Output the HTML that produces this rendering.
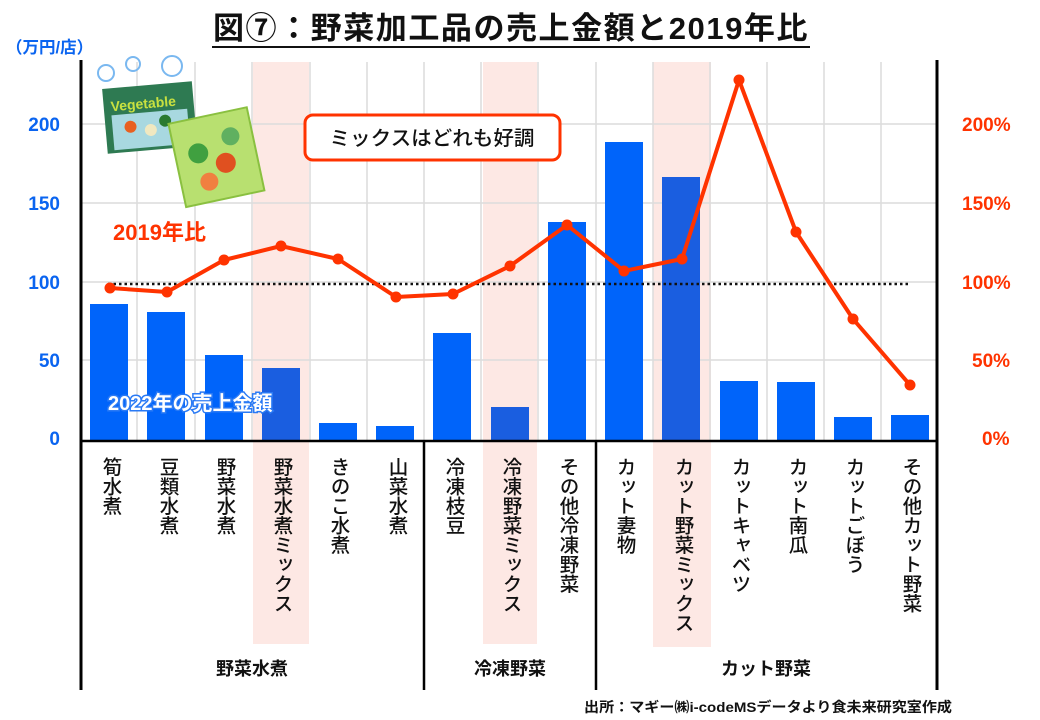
<!DOCTYPE html>
<html><head><meta charset="utf-8"><style>
body{margin:0;background:#fff;}
#c{position:relative;width:1040px;height:720px;overflow:hidden;font-family:"Liberation Sans","Noto Sans CJK JP",sans-serif;}
.v{position:absolute;top:457px;writing-mode:vertical-rl;font-size:19.5px;line-height:22px;color:#111;font-weight:500;width:22px;}
</style></head><body><div id="c">
<svg width="1040" height="720" style="position:absolute;left:0;top:0" font-family="Liberation Sans, Noto Sans CJK JP, sans-serif">
<rect x="253" y="62" width="56" height="582" fill="#fde8e4"/>
<rect x="483" y="62" width="54" height="582" fill="#fde8e4"/>
<rect x="653" y="62" width="58" height="585" fill="#fde8e4"/>
<g stroke="#dcdcdc" stroke-width="1.5">
<line x1="81" y1="124" x2="937" y2="124"/><line x1="81" y1="203" x2="937" y2="203"/>
<line x1="81" y1="282" x2="937" y2="282"/><line x1="81" y1="360" x2="937" y2="360"/>
<line x1="137" y1="62" x2="137" y2="440"/><line x1="195" y1="62" x2="195" y2="440"/>
<line x1="252" y1="62" x2="252" y2="440"/><line x1="310" y1="62" x2="310" y2="440"/>
<line x1="367" y1="62" x2="367" y2="440"/><line x1="424" y1="62" x2="424" y2="440"/>
<line x1="481" y1="62" x2="481" y2="440"/><line x1="538" y1="62" x2="538" y2="440"/>
<line x1="596" y1="62" x2="596" y2="440"/><line x1="653" y1="62" x2="653" y2="440"/>
<line x1="710" y1="62" x2="710" y2="440"/><line x1="767" y1="62" x2="767" y2="440"/>
<line x1="824" y1="62" x2="824" y2="440"/><line x1="881" y1="62" x2="881" y2="440"/>
</g>
<g fill="#0064fa">
<rect x="90" y="304" width="38" height="136"/>
<rect x="147" y="312" width="38" height="128"/>
<rect x="205" y="355" width="38" height="85"/>
<rect x="262" y="368" width="38" height="72" fill="#1a5ee0"/>
<rect x="319" y="423" width="38" height="17"/>
<rect x="376" y="426" width="38" height="14"/>
<rect x="433" y="333" width="38" height="107"/>
<rect x="491" y="407" width="38" height="33" fill="#1a5ee0"/>
<rect x="548" y="222" width="38" height="218"/>
<rect x="605" y="142" width="38" height="298"/>
<rect x="662" y="177" width="38" height="263" fill="#1a5ee0"/>
<rect x="720" y="381" width="38" height="59"/>
<rect x="777" y="382" width="38" height="58"/>
<rect x="834" y="417" width="38" height="23"/>
<rect x="891" y="415" width="38" height="25"/>
</g>
<line x1="81" y1="60" x2="81" y2="690" stroke="#000" stroke-width="3"/>
<line x1="937" y1="60" x2="937" y2="690" stroke="#000" stroke-width="3"/>
<line x1="81" y1="441" x2="937" y2="441" stroke="#000" stroke-width="2.5"/>
<line x1="424" y1="441" x2="424" y2="690" stroke="#000" stroke-width="2.5"/>
<line x1="596" y1="441" x2="596" y2="690" stroke="#000" stroke-width="2.5"/>
<line x1="108" y1="284" x2="910" y2="284" stroke="#111" stroke-width="2.5" stroke-dasharray="2.5,3"/>
<polyline fill="none" stroke="#ff3300" stroke-width="4" stroke-linejoin="round" points="110,288 167,292 224,260 281,246 338,259 396,297 453,294 510,266 567,225 624,271 682,259 739,80 796,232 853,319 910,385"/>
<g fill="#ff3300">
<circle cx="110" cy="288" r="5.5"/><circle cx="167" cy="292" r="5.5"/><circle cx="224" cy="260" r="5.5"/><circle cx="281" cy="246" r="5.5"/><circle cx="338" cy="259" r="5.5"/><circle cx="396" cy="297" r="5.5"/><circle cx="453" cy="294" r="5.5"/><circle cx="510" cy="266" r="5.5"/><circle cx="567" cy="225" r="5.5"/><circle cx="624" cy="271" r="5.5"/><circle cx="682" cy="259" r="5.5"/><circle cx="739" cy="80" r="5.5"/><circle cx="796" cy="232" r="5.5"/><circle cx="853" cy="319" r="5.5"/><circle cx="910" cy="385" r="5.5"/>
</g>
<g fill="#0a64f0" font-weight="bold" font-size="19" text-anchor="end">
<text x="60" y="131">200</text><text x="60" y="210">150</text><text x="60" y="289">100</text><text x="60" y="367">50</text><text x="60" y="445">0</text>
</g>
<text x="6" y="53" fill="#0a64f0" font-weight="bold" font-size="16.5">（万円/店）</text>
<g fill="#ff3300" font-weight="bold" font-size="19">
<text x="962" y="131">200%</text><text x="962" y="210">150%</text><text x="962" y="289">100%</text><text x="972" y="367">50%</text><text x="982" y="445">0%</text>
</g>
<text x="511" y="39" text-anchor="middle" font-size="31" font-weight="bold" fill="#111" letter-spacing="1.5" textLength="596" lengthAdjust="spacingAndGlyphs">図⑦：野菜加工品の売上金額と2019年比</text>
<line x1="212" y1="47" x2="810" y2="47" stroke="#111" stroke-width="2"/>
<rect x="305" y="115" width="255" height="45" rx="8" fill="#fff" stroke="#ff3300" stroke-width="3"/>
<text x="432" y="145" text-anchor="middle" font-size="20" font-weight="500" fill="#111" textLength="205" lengthAdjust="spacingAndGlyphs">ミックスはどれも好調</text>
<text x="113" y="240" font-size="22" font-weight="bold" fill="#ff3300">2019年比</text>
<text x="108" y="410" font-size="20" font-weight="bold" fill="#fff" stroke="#2a7af5" stroke-width="3" paint-order="stroke">2022年の売上金額</text>
<g>
<circle cx="106" cy="73" r="8" fill="none" stroke="#7ab8f0" stroke-width="2"/>
<circle cx="133" cy="64" r="7" fill="none" stroke="#7ab8f0" stroke-width="2"/>
<circle cx="172" cy="66" r="10" fill="none" stroke="#7ab8f0" stroke-width="2"/>
<g transform="rotate(-5 150 120)">
<rect x="105" y="85" width="90" height="65" fill="#2e7a52"/>
<rect x="112" y="112" width="76" height="35" fill="#a8d8e0"/>
<circle cx="130" cy="125" r="6" fill="#e86020"/><circle cx="150" cy="130" r="6" fill="#f0e8c0"/><circle cx="165" cy="122" r="6" fill="#2a7a30"/>
<text x="112" y="108" font-size="14" font-weight="bold" fill="#c8e040">Vegetable</text>
</g>
<g transform="rotate(-12 215 160)">
<rect x="177" y="115" width="80" height="85" fill="#b8e070" stroke="#8ac040" stroke-width="2"/>
<circle cx="200" cy="150" r="10" fill="#40a040"/><circle cx="225" cy="165" r="10" fill="#e05020"/><circle cx="235" cy="140" r="9" fill="#60b060"/><circle cx="205" cy="180" r="9" fill="#f08040"/>
</g>
</g>
<g font-size="18" font-weight="bold" fill="#111" text-anchor="middle">
<text x="252" y="675">野菜水煮</text><text x="510" y="675">冷凍野菜</text><text x="766" y="675">カット野菜</text>
</g>
<text x="952" y="712" text-anchor="end" font-size="14" font-weight="bold" fill="#111" textLength="368" lengthAdjust="spacingAndGlyphs">出所：マギー㈱i-codeMSデータより食未来研究室作成</text>
</svg>
<div class="v" style="left:99px">筍水煮</div>
<div class="v" style="left:156px">豆類水煮</div>
<div class="v" style="left:213px">野菜水煮</div>
<div class="v" style="left:270px">野菜水煮ミックス</div>
<div class="v" style="left:327px">きのこ水煮</div>
<div class="v" style="left:385px">山菜水煮</div>
<div class="v" style="left:442px">冷凍枝豆</div>
<div class="v" style="left:499px">冷凍野菜ミックス</div>
<div class="v" style="left:556px">その他冷凍野菜</div>
<div class="v" style="left:613px">カット妻物</div>
<div class="v" style="left:671px">カット野菜ミックス</div>
<div class="v" style="left:728px">カットキャベツ</div>
<div class="v" style="left:785px">カット南瓜</div>
<div class="v" style="left:842px">カットごぼう</div>
<div class="v" style="left:899px">その他カット野菜</div>
</div></body></html>
